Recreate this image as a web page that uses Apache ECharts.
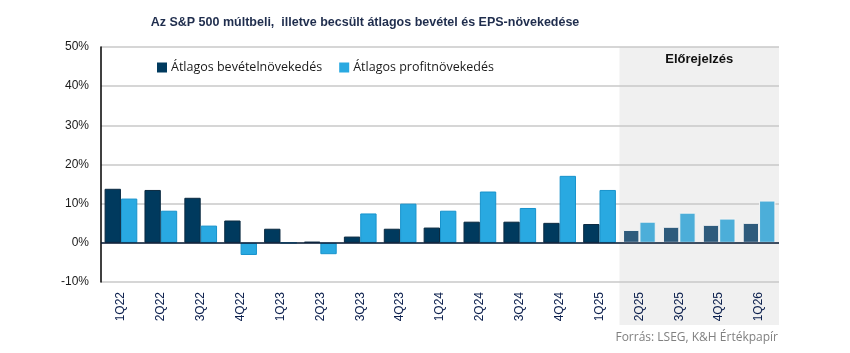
<!DOCTYPE html>
<html>
<head>
<meta charset="utf-8">
<script src="https://cdn.jsdelivr.net/npm/echarts@6/dist/echarts.min.js"></script>
<style>
html, body { margin: 0; padding: 0; background: #fff; }
#chart { width: 850px; height: 353px; }
</style>
</head>
<body>
<div id="chart"></div>
<script>
// negyedévek
var quarters = ['1Q22','2Q22','3Q22','4Q22','1Q23','2Q23','3Q23','4Q23','1Q24','2Q24','3Q24','4Q24','1Q25','2Q25','3Q25','4Q25','1Q26'];
// átlagos bevételnövekedés (%)
var revenueGrowth = [13.8, 13.5, 11.5, 5.7, 3.6, 0.3, 1.6, 3.6, 3.9, 5.4, 5.4, 5.1, 4.8, 3.3, 4.1, 4.6, 5.1];
// átlagos profitnövekedés (%)
var profitGrowth = [11.3, 8.2, 4.4, -3.1, 0, -2.9, 7.5, 10.0, 8.2, 13.1, 8.9, 17.1, 13.5, 5.4, 7.7, 6.2, 10.8];
// az első előrejelzett negyedév
var firstForecast = '2Q25';
var yTicks = [-10, 0, 10, 20, 30, 40, 50];

var forecastIdx = quarters.indexOf(firstForecast);

function buildData(values, histStyle, fcStyle) {
    var out = [];
    for (var i = 0; i < values.length; i++) {
        out.push({
            value: values[i],
            itemStyle: i >= forecastIdx ? fcStyle : histStyle
        });
    }
    return out;
}

var revHist = { color: '#003a5e', borderColor: '#0b2a40', borderWidth: 1 };
var revFc = { color: '#2e5b7c', borderColor: '#f4f4f4', borderWidth: 1 };
var profHist = { color: '#29a9e1', borderColor: '#1893cc', borderWidth: 1 };
var profFc = { color: '#4caed9', borderColor: '#f4f4f4', borderWidth: 1 };

var chart = echarts.init(document.getElementById('chart'));

var option = {
    animation: false,
    title: {
        text: 'Az S&P 500 múltbeli,  illetve becsült átlagos bevétel és EPS-növekedése',
        left: 360,
        textAlign: 'center',
        top: 11,
        textStyle: { fontFamily: 'Liberation Sans', fontSize: 12.5, fontWeight: 'bold', color: '#1f2d4d' }
    },
    legend: {
        left: 152,
        top: 56,
        itemWidth: 10,
        itemHeight: 10,
        itemGap: 17,
        icon: 'rect',
        textStyle: { fontFamily: 'Open Sans', fontSize: 12.5, color: '#1a1a1a', padding: [0, 0, 0, -1] },
        data: [
            { name: 'Átlagos bevételnövekedés', itemStyle: { color: '#003a5e', borderWidth: 0 } },
            { name: 'Átlagos profitnövekedés', itemStyle: { color: '#29a9e1', borderWidth: 0 } }
        ]
    },
    grid: { left: 101, right: 71, top: 47, bottom: 71 },
    xAxis: {
        type: 'category',
        data: quarters,
        axisLine: { show: false, onZero: false },
        axisTick: { show: false },
        axisLabel: {
            rotate: 90,
            margin: 10,
            fontFamily: 'Liberation Sans',
            fontSize: 12,
            color: '#0b1f4d'
        }
    },
    yAxis: {
        type: 'value',
        min: -10,
        max: 50,
        interval: 10,
        axisLine: { show: true, lineStyle: { color: '#000', width: 1.5 } },
        axisTick: { show: false },
        splitLine: { lineStyle: { color: '#c8c8c8', width: 1.5 } },
        axisLabel: {
            margin: 12,
            fontFamily: 'Liberation Sans',
            fontSize: 12,
            color: '#1a1a1a',
            formatter: function (v) { return v + '%'; }
        }
    },
    series: [
        {
            name: 'Átlagos bevételnövekedés',
            type: 'bar',
            barGap: '0%',
            barCategoryGap: '18%',
            z: 3,
            data: buildData(revenueGrowth, revHist, revFc),
            markLine: {
                silent: true,
                symbol: 'none',
                label: { show: false },
                lineStyle: { color: '#0b1f3a', width: 1.5, type: 'solid' },
                data: [{ yAxis: 0 }]
            }
        },
        {
            name: 'Átlagos profitnövekedés',
            type: 'bar',
            z: 3,
            data: buildData(profitGrowth, profHist, profFc)
        }
    ]
};
chart.setOption(option);

// előrejelzés háttere
var x0 = chart.convertToPixel({ xAxisIndex: 0 }, quarters[forecastIdx - 1]);
var x1 = chart.convertToPixel({ xAxisIndex: 0 }, quarters[forecastIdx]);
var xEnd = chart.convertToPixel({ xAxisIndex: 0 }, quarters[quarters.length - 1]) + (x1 - x0) / 2;
var xStart = (x0 + x1) / 2;
var yTop = chart.convertToPixel({ yAxisIndex: 0 }, yTicks[yTicks.length - 1]);
var yBottom = chart.convertToPixel({ yAxisIndex: 0 }, yTicks[0]) + 43;

chart.setOption({
    graphic: [
        {
            type: 'rect',
            z: -1,
            silent: true,
            shape: { x: xStart, y: yTop, width: xEnd - xStart, height: yBottom - yTop },
            style: { fill: '#f0f0f0' }
        },
        {
            type: 'text',
            x: (xStart + xEnd) / 2,
            y: 53,
            silent: true,
            style: {
                text: 'Előrejelzés',
                textAlign: 'center',
                fontFamily: 'Liberation Sans',
                fontSize: 13,
                fontWeight: 'bold',
                fill: '#111'
            }
        },
        {
            type: 'text',
            right: 72,
            top: 332,
            silent: true,
            style: {
                text: 'Forrás: LSEG, K&H Értékpapír',
                fontFamily: 'Open Sans',
                fontSize: 12,
                fill: '#808080'
            }
        }
    ]
});
</script>
</body>
</html>
